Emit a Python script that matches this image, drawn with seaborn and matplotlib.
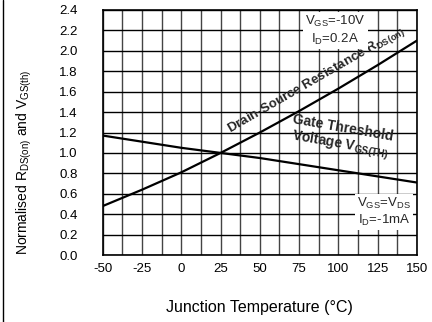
import numpy as np
import pandas as pd
import matplotlib
matplotlib.use("Agg")
import matplotlib.pyplot as plt
import seaborn as sns
from matplotlib.lines import Line2D

# -----------------------------
# DATA
# -----------------------------
temps = [-50, -25, 0, 25, 50, 75, 100, 125, 150]
rds_on = [0.48, 0.64, 0.81, 1.00, 1.20, 1.41, 1.63, 1.86, 2.10]
vgs_th = [1.17, 1.11, 1.05, 1.00, 0.95, 0.89, 0.83, 0.77, 0.71]

x_ticks = [-50, -25, 0, 25, 50, 75, 100, 125, 150]
y_ticks = [0.0, 0.2, 0.4, 0.6, 0.8, 1.0, 1.2, 1.4, 1.6, 1.8, 2.0, 2.2, 2.4]

# -----------------------------
# STYLE
# -----------------------------
sns.set_theme(style="white")
plt.rcParams["font.family"] = ["Liberation Sans", "DejaVu Sans"]
plt.rcParams["mathtext.fontset"] = "custom"
plt.rcParams["mathtext.rm"] = "Liberation Sans"
plt.rcParams["mathtext.bf"] = "Liberation Sans:bold"

df = pd.DataFrame({"T": temps, "RDS": rds_on, "VGS": vgs_th})

fig = plt.figure(figsize=(4.32, 3.22), dpi=100)
ax = fig.add_axes([0.238, 0.208, 0.727, 0.761])

# grid every 12.5 degC / 0.2
for xv in np.arange(-50, 150.1, 12.5):
    ax.axvline(xv, color="#444444", lw=1.0, zorder=1)
for yv in y_ticks:
    ax.axhline(yv, color="black", lw=1.0, zorder=1)

sns.lineplot(data=df, x="T", y="RDS", color="black", lw=1.6, ax=ax, zorder=3)
sns.lineplot(data=df, x="T", y="VGS", color="black", lw=1.6, ax=ax, zorder=3)

ax.set_xlim(-50, 150)
ax.set_ylim(0, 2.4)
ax.set_xticks(x_ticks)
ax.set_xticklabels([str(t) for t in x_ticks])
ax.set_yticks(y_ticks)
ax.set_yticklabels([f"{v:.1f}" for v in y_ticks])
ax.tick_params(axis="both", length=0, labelsize=9.5, colors="black")
ax.tick_params(axis="y", pad=18)
ax.tick_params(axis="x", pad=6)
for s in ax.spines.values():
    s.set_color("black")
    s.set_linewidth(1.2)

ax.set_xlabel("Junction Temperature (°C)", fontsize=11.5, color="black")
ax.xaxis.set_label_coords(0.5, -0.185)
ax.set_ylabel(r"Normalised R$_{\rm DS(on)}$ and V$_{\rm GS(th)}$", fontsize=10,
              color="black")
ax.yaxis.set_label_coords(-0.22, 0.38)

# curve labels
ax.text(86, 1.71, r"Drain-Source Resistance R$_{\mathbf{DS(on)}}$", rotation=30,
        ha="center", va="center", fontsize=9.5, fontweight="bold", zorder=5)
ax.text(102, 1.15, "Gate Threshold\n" + r"Voltage V$_{\mathbf{GS(TH)}}$", rotation=-10,
        ha="center", va="center", fontsize=10, fontweight="bold",
        linespacing=1.1, zorder=5)

# condition boxes
ax.text(98, 2.2, r"V$_{\rm GS}$=-10V" + "\n" + r"I$_{\rm D}$=0.2A",
        ha="center", va="center", fontsize=9.5, linespacing=1.2, zorder=5,
        bbox=dict(facecolor="white", edgecolor="none", pad=1.5))
ax.text(129, 0.42, r"V$_{\rm GS}$=V$_{\rm DS}$" + "\n" + r"I$_{\rm D}$=-1mA",
        ha="center", va="center", fontsize=9.5, linespacing=1.2, zorder=5,
        bbox=dict(facecolor="white", edgecolor="none", pad=1.5))

# left frame line
fig.add_artist(Line2D([0.008, 0.008], [0, 1], transform=fig.transFigure,
                      color="black", lw=1.0))

fig.savefig("out.png", dpi=100)
